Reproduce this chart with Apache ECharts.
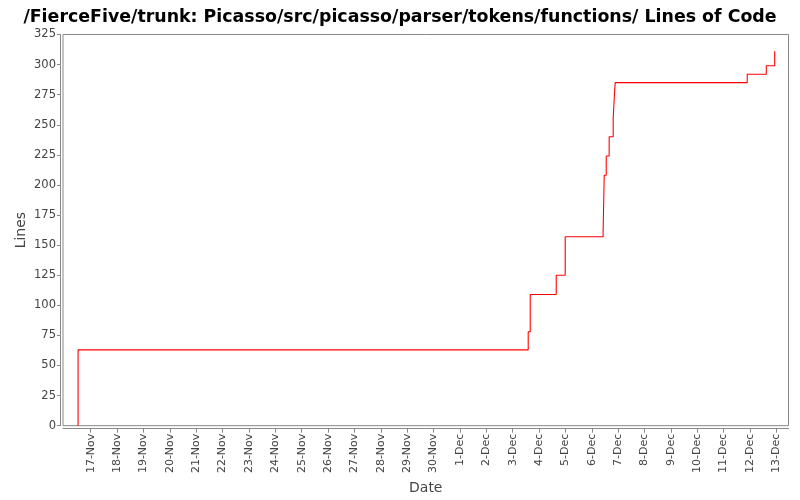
<!DOCTYPE html>
<html>
<head>
<meta charset="utf-8">
<script src="https://cdn.jsdelivr.net/npm/echarts@6/dist/echarts.min.js"></script>
<style>html,body{margin:0;padding:0;background:#fff}#c{width:800px;height:500px}</style>
</head>
<body>
<div id="c"></div>
<script>
const titleText = '/FierceFive/trunk: Picasso/src/picasso/parser/tokens/functions/ Lines of Code';
const commitTimes = ['2008-11-16 12:30','2008-11-16 12:30','2008-12-03 14:10','2008-12-03 16:00','2008-12-04 15:40','2008-12-04 23:50','2008-12-06 10:20','2008-12-06 11:20','2008-12-06 13:10','2008-12-06 15:50','2008-12-06 19:30','2008-12-06 20:20','2008-12-06 21:20','2008-12-11 21:30','2008-12-12 14:50','2008-12-12 22:30'];
const lineCounts = [0,63,78,109,125,157,161,208,224,240,255,270,285,292,299,311];
const xTickLabels = ['17-Nov','18-Nov','19-Nov','20-Nov','21-Nov','22-Nov','23-Nov','24-Nov','25-Nov','26-Nov','27-Nov','28-Nov','29-Nov','30-Nov','1-Dec','2-Dec','3-Dec','4-Dec','5-Dec','6-Dec','7-Dec','8-Dec','9-Dec','10-Dec','11-Dec','12-Dec','13-Dec'];
const yTicks = [0,25,50,75,100,125,150,175,200,225,250,275,300,325];
const axisMin = '2008-11-15 22:47';
const axisMax = '2008-12-13 11:03';

const MONTHS = ['Jan','Feb','Mar','Apr','May','Jun','Jul','Aug','Sep','Oct','Nov','Dec'];
function parseT(s){
  const [d,t] = s.split(' ');
  const [Y,M,D] = d.split('-').map(Number);
  const [h,m] = (t||'00:00').split(':').map(Number);
  return Date.UTC(Y,M-1,D,h,m);
}
function labelToT(l){
  const [d,mon] = l.split('-');
  return Date.UTC(2008, MONTHS.indexOf(mon), Number(d));
}
const tickValues = xTickLabels.map(labelToT);
const data = commitTimes.map((t,i)=>[parseT(t), lineCounts[i]]);
const FONT = 'DejaVu Sans';
const chart = echarts.init(document.getElementById('c'));
chart.setOption({
  animation: false,
  backgroundColor: '#fff',
  title: {
    text: titleText, left: 'center', top: 4,
    textStyle: {fontFamily: FONT, fontSize: 17.4, fontWeight: 'bold', color: '#000'}
  },
  grid: {left: 63, right: 11.5, top: 34.5, bottom: 73.3, show: true, borderColor: '#888', borderWidth: 1, backgroundColor: '#fff'},
  xAxis: {
    type: 'value', min: parseT(axisMin), max: parseT(axisMax), offset: 3, scale: true,
    name: 'Date', nameLocation: 'middle', nameGap: 47,
    nameTextStyle: {fontFamily: FONT, fontSize: 14, color: '#444'},
    axisLine: {show: true, onZero: false, lineStyle: {color: '#888'}},
    axisTick: {show: true, length: 4, lineStyle: {color: '#888'}, customValues: tickValues},
    axisLabel: {rotate: 90, margin: 5, fontFamily: FONT, fontSize: 11, color: '#444', customValues: tickValues,
      formatter: v => { const i = tickValues.indexOf(v); return i >= 0 ? xTickLabels[i] : ''; }},
    splitLine: {show: false}
  },
  yAxis: {
    type: 'value', min: 0, max: 325, interval: 25, offset: 3,
    name: 'Lines', nameLocation: 'middle', nameGap: 32, nameMoveOverlap: false,
    nameTextStyle: {fontFamily: FONT, fontSize: 14, color: '#444'},
    axisLine: {show: true, lineStyle: {color: '#888'}},
    axisTick: {show: true, length: 3, lineStyle: {color: '#888'}},
    axisLabel: {margin: 4, fontFamily: FONT, fontSize: 11.5, color: '#444',
      formatter: v => yTicks.includes(v) ? String(v) : ''},
    splitLine: {show: false}
  },
  series: [{
    type: 'line', step: 'end', data: data, showSymbol: false, symbol: 'none',
    lineStyle: {color: '#ff0000', width: 1.1}
  }]
});
</script>
</body>
</html>
